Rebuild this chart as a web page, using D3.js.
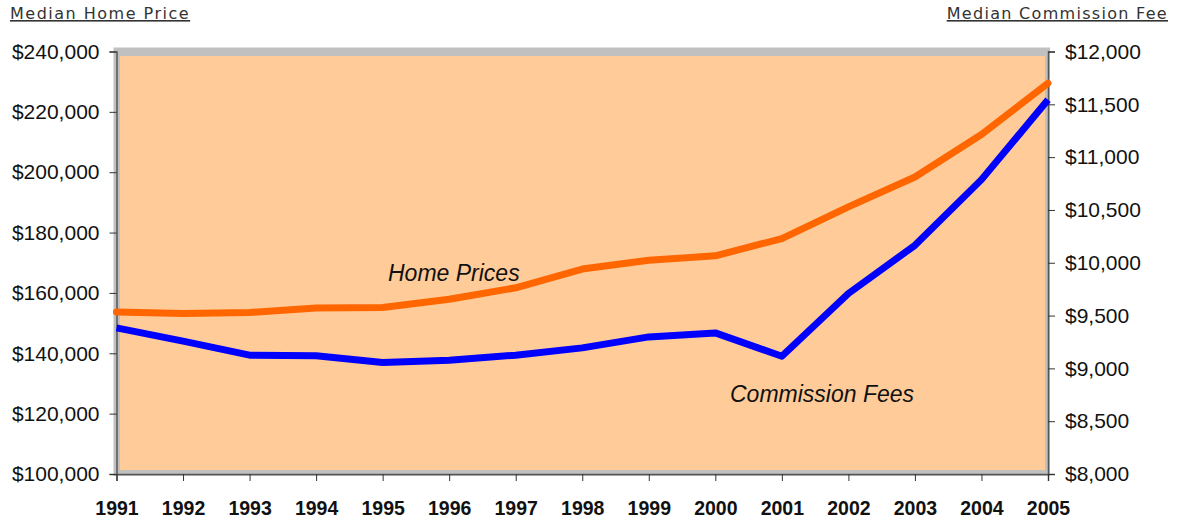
<!doctype html>
<html>
<head>
<meta charset="UTF-8">
<title>Median Home Price vs Median Commission Fee</title>
<script src="https://d3js.org/d3.v7.min.js"></script>
<style>
  body { margin: 0; background: #fff; }
  svg text { font-family: "Liberation Sans", Arial, sans-serif; }
</style>
</head>
<body>
<script>
  var years = ["1991","1992","1993","1994","1995","1996","1997","1998","1999","2000","2001","2002","2003","2004","2005"];
  var homePrices = [153700, 153200, 153500, 155000, 155200, 157900, 161700, 167900, 170800, 172300, 178000, 188500, 198400, 212500, 229500];
  var commissionFees = [9383, 9258, 9125, 9119, 9056, 9078, 9125, 9194, 9298, 9336, 9115, 9709, 10165, 10787, 11543];
  var leftTicks = [100000, 120000, 140000, 160000, 180000, 200000, 220000, 240000];
  var rightTicks = [8000, 8500, 9000, 9500, 10000, 10500, 11000, 11500, 12000];

  var w = 1177, h = 519;
  var plotLeft = 116.5, plotRight = 1048, plotTop = 51.5, plotBottom = 474;

  var svg = d3.select("body").append("svg")
      .attr("width", w)
      .attr("height", h);

  var x = d3.scalePoint().domain(years).range([plotLeft, plotRight]);
  var yL = d3.scaleLinear().domain([100000, 240000]).range([plotBottom, plotTop]);
  var yR = d3.scaleLinear().domain([8000, 12000]).range([plotBottom, plotTop]);

  // plot area with the grey frame
  svg.append("rect")
     .attr("x", plotLeft - 3).attr("y", plotTop - 4)
     .attr("width", plotRight - plotLeft + 5).attr("height", plotBottom - plotTop + 6)
     .attr("fill", "#c0c0c0");
  svg.append("rect")
     .attr("x", plotLeft + 3.5).attr("y", plotTop + 4.5)
     .attr("width", plotRight - plotLeft - 6.5).attr("height", plotBottom - plotTop - 8.5)
     .attr("fill", "#ffcc99");

  // axes
  var money = d3.format("$,");
  var gL = svg.append("g").attr("transform", "translate(" + plotLeft + ",0)")
      .call(d3.axisLeft(yL).tickValues(leftTicks).tickSize(7).tickPadding(10).tickFormat(money));
  var gR = svg.append("g").attr("transform", "translate(" + plotRight + ",0)")
      .call(d3.axisRight(yR).tickValues(rightTicks).tickSize(7).tickPadding(10).tickFormat(money));
  var gX = svg.append("g").attr("transform", "translate(0," + plotBottom + ")")
      .call(d3.axisBottom(x).tickSize(7).tickPadding(20));

  [gL, gR, gX].forEach(function(g){
    g.select(".domain").attr("stroke", "#555").attr("stroke-width", 1.5);
    g.selectAll(".tick line").attr("stroke", "#333");
  });
  gL.selectAll("text").attr("font-size", 21).attr("fill", "#111")
    .attr("font-family", "'Liberation Sans', Arial, sans-serif");
  gR.selectAll("text").attr("font-size", 21).attr("fill", "#111")
    .attr("font-family", "'Liberation Sans', Arial, sans-serif");
  gX.selectAll("text").attr("font-size", 19.5).attr("font-weight", "bold").attr("fill", "#111")
    .attr("font-family", "'Liberation Sans', Arial, sans-serif");

  // lines
  var homeLine = d3.line()
      .x(function(d, i){ return x(years[i]); })
      .y(function(d){ return yL(d); });
  var feeLine = d3.line()
      .x(function(d, i){ return x(years[i]); })
      .y(function(d){ return yR(d); });

  svg.append("path").datum(commissionFees)
     .attr("d", feeLine)
     .attr("fill", "none").attr("stroke", "#0000ff")
     .attr("stroke-width", 7).attr("stroke-linejoin", "round");
  svg.append("path").datum(homePrices)
     .attr("d", homeLine)
     .attr("fill", "none").attr("stroke", "#ff6600")
     .attr("stroke-width", 7).attr("stroke-linejoin", "round").attr("stroke-linecap", "round");

  // series labels
  svg.append("text").text("Home Prices")
     .attr("x", 388).attr("y", 281)
     .attr("font-size", 23).attr("font-style", "italic").attr("fill", "#111");
  svg.append("text").text("Commission Fees")
     .attr("x", 730).attr("y", 402)
     .attr("font-size", 23).attr("font-style", "italic").attr("fill", "#111");

  // axis titles
  svg.append("text").text("Median Home Price")
     .attr("x", 10).attr("y", 19)
     .style("font-family", "'DejaVu Sans', Verdana, sans-serif")
     .attr("font-size", 16).attr("letter-spacing", 1.5)
     .attr("text-decoration", "underline").attr("fill", "#333");
  svg.append("text").text("Median Commission Fee")
     .attr("x", 1168).attr("y", 19).attr("text-anchor", "end")
     .style("font-family", "'DejaVu Sans', Verdana, sans-serif")
     .attr("font-size", 16).attr("letter-spacing", 1.3)
     .attr("text-decoration", "underline").attr("fill", "#333");
</script>
</body>
</html>
